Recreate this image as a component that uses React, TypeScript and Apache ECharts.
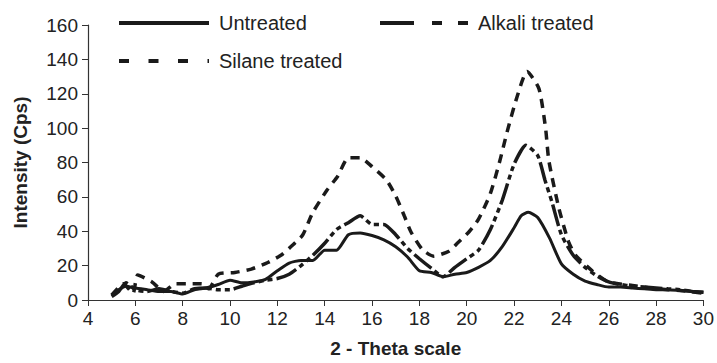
import React, { useEffect, useRef } from "react";
import * as echarts from "echarts";

const untreatedTheta = [5, 5.3, 5.6, 6, 6.5, 7, 7.5, 8, 8.5, 9, 9.5, 10, 10.5, 11, 11.5, 12, 12.5, 13, 13.5, 14, 14.5, 15, 15.5, 16, 16.5, 17, 17.5, 18, 18.5, 19, 19.5, 20, 20.5, 21, 21.5, 22, 22.3, 22.6, 23, 23.5, 24, 24.5, 25, 25.5, 26, 26.5, 27, 27.5, 28, 28.5, 29, 29.5, 30];
const untreatedValues = [3, 6, 8, 7, 6, 5, 5, 3.5, 6, 7, 9, 11.5, 10, 10.5, 12, 17, 21.5, 23, 23, 29, 29, 38, 39, 37.5, 35, 31, 25, 17, 16, 13.5, 15, 16, 19, 23, 31, 42, 49, 51, 48, 36, 21, 15, 11, 9, 7.5, 7.5, 7, 6.5, 6, 6, 5.5, 5, 4.5];

const alkaliTheta = [5, 5.3, 5.6, 6, 6.5, 7, 7.5, 8, 8.5, 9, 9.5, 10, 10.5, 11, 11.5, 12, 12.5, 13, 13.5, 14, 14.5, 15, 15.5, 16, 16.5, 17, 17.5, 18, 18.5, 19, 19.5, 20, 20.5, 21, 21.5, 22, 22.5, 23, 23.3, 23.6, 24, 24.5, 25, 25.5, 26, 26.5, 27, 27.5, 28, 28.5, 29, 29.5, 30];
const alkaliValues = [2, 5, 10, 6, 5, 6.5, 5, 4, 6.5, 7, 6, 6, 8, 10, 11.5, 12.5, 15, 20, 26, 33, 41, 45, 49, 44, 44, 38, 30, 24, 18.5, 13.5, 19, 24, 29, 41, 58, 79, 90, 84, 70, 57, 38, 26, 19, 14, 10.5, 9, 8, 7.5, 7, 6.5, 6, 5, 4.5];

const silaneTheta = [5, 5.5, 5.9, 6.1, 6.7, 7.2, 7.7, 8.2, 8.8, 9.1, 9.5, 10.2, 10.9, 11.6, 12.2, 12.65, 13.07, 13.5, 14.1, 14.55, 15, 15.5, 16, 16.6, 17, 17.36, 17.64, 18.13, 18.6, 19.25, 19.6, 20.1, 20.5, 21, 21.4, 21.7, 22.1, 22.55, 23.05, 23.33, 23.47, 23.9, 24.3, 24.6, 25.3, 26, 27, 28, 29, 29.5, 30];
const silaneValues = [2.8, 9.5, 3.8, 14.5, 10.5, 5, 9.5, 9.5, 9.5, 6.5, 15, 16, 18, 21.8, 26.5, 32, 37.8, 51, 64, 72, 82.8, 82.8, 77.6, 70, 60.5, 49, 39.7, 29.3, 25.5, 28.4, 33, 39.7, 47, 62, 81, 97.5, 117, 133, 123, 100, 81, 53, 34, 26, 17, 10.4, 8.5, 6.6, 5.5, 4.8, 4];

const xTicks = { min: 4, max: 30, interval: 2 };
const yTicks = { min: 0, max: 160, interval: 20 };

const seriesNames = ["Untreated", "Alkali treated", "Silane treated"];

const FONT = "'Liberation Sans', Arial, Helvetica, sans-serif";
const INK = "#1a1a1a";

function pairs(xs: number[], ys: number[]) {
  return xs.map((x, i) => [x, ys[i]]);
}

const hiddenSymbol = { color: "rgba(0,0,0,0)", borderWidth: 0, opacity: 0 };

export default function App() {
  const ref = useRef<HTMLDivElement>(null);
  useEffect(() => {
    if (!ref.current) return;
    const chart = echarts.init(ref.current, undefined, { renderer: "svg" });
    const legendText = { fontSize: 20, color: "#222", fontFamily: FONT, padding: [0, 0, 0, 5] };
    const legendBase = {
      orient: "vertical",
      itemWidth: 90,
      itemHeight: 20,
      selectedMode: false,
      textStyle: legendText,
      itemStyle: hiddenSymbol,
    };
    chart.setOption({
      animation: false,
      textStyle: { fontFamily: FONT },
      grid: { left: 88, top: 25, width: 617, height: 281.7 },
      legend: [
        {
          ...legendBase,
          left: 112,
          top: 8,
          data: [seriesNames[0]],
          lineStyle: { type: "solid", width: 4, color: INK },
        },
        {
          ...legendBase,
          left: 112,
          top: 46,
          data: [seriesNames[2]],
          lineStyle: { type: [10, 19.5], width: 4, color: INK },
        },
        {
          ...legendBase,
          left: 373,
          top: 8,
          itemWidth: 88,
          data: [seriesNames[1]],
          lineStyle: { type: [34, 18, 10, 16, 10, 16], width: 4, color: INK },
        },
      ],
      xAxis: {
        type: "value",
        min: xTicks.min,
        max: xTicks.max,
        interval: xTicks.interval,
        name: "2 - Theta scale",
        nameLocation: "middle",
        nameGap: 39,
        nameTextStyle: { fontSize: 19, fontWeight: "bold", color: "#222", fontFamily: FONT },
        axisLine: { lineStyle: { color: "#333", width: 1.2 } },
        axisTick: { length: 6, lineStyle: { color: "#333" } },
        axisLabel: { fontSize: 19, color: "#222", margin: 9, fontFamily: FONT },
        splitLine: { show: false },
      },
      yAxis: {
        type: "value",
        min: yTicks.min,
        max: yTicks.max,
        interval: yTicks.interval,
        name: "Intensity (Cps)",
        nameLocation: "middle",
        nameGap: 58,
        nameTextStyle: { fontSize: 19, fontWeight: "bold", color: "#222", fontFamily: FONT },
        axisLine: { show: true, lineStyle: { color: "#333", width: 1.2 } },
        axisTick: { show: true, length: 6, lineStyle: { color: "#333" } },
        axisLabel: { fontSize: 19, color: "#222", margin: 10, fontFamily: FONT },
        splitLine: { show: false },
      },
      series: [
        {
          name: seriesNames[0],
          type: "line",
          symbol: "none",
          smooth: 0.2,
          data: pairs(untreatedTheta, untreatedValues),
          lineStyle: { color: INK, width: 3, type: "solid" },
          itemStyle: { color: INK },
          z: 3,
        },
        {
          name: seriesNames[1],
          type: "line",
          symbol: "none",
          smooth: 0.2,
          data: pairs(alkaliTheta, alkaliValues),
          lineStyle: { color: INK, width: 3.5, type: [22, 4, 5, 4, 5, 4] },
          itemStyle: { color: INK },
          z: 2,
        },
        {
          name: seriesNames[2],
          type: "line",
          symbol: "none",
          smooth: 0.2,
          data: pairs(silaneTheta, silaneValues),
          lineStyle: { color: INK, width: 3.5, type: [9, 7] },
          itemStyle: { color: INK },
          z: 1,
        },
      ],
    });
    return () => chart.dispose();
  }, []);
  return (
    <div
      ref={ref}
      style={{ position: "fixed", left: 0, top: 0, width: 717, height: 363, background: "#fff" }}
    />
  );
}
